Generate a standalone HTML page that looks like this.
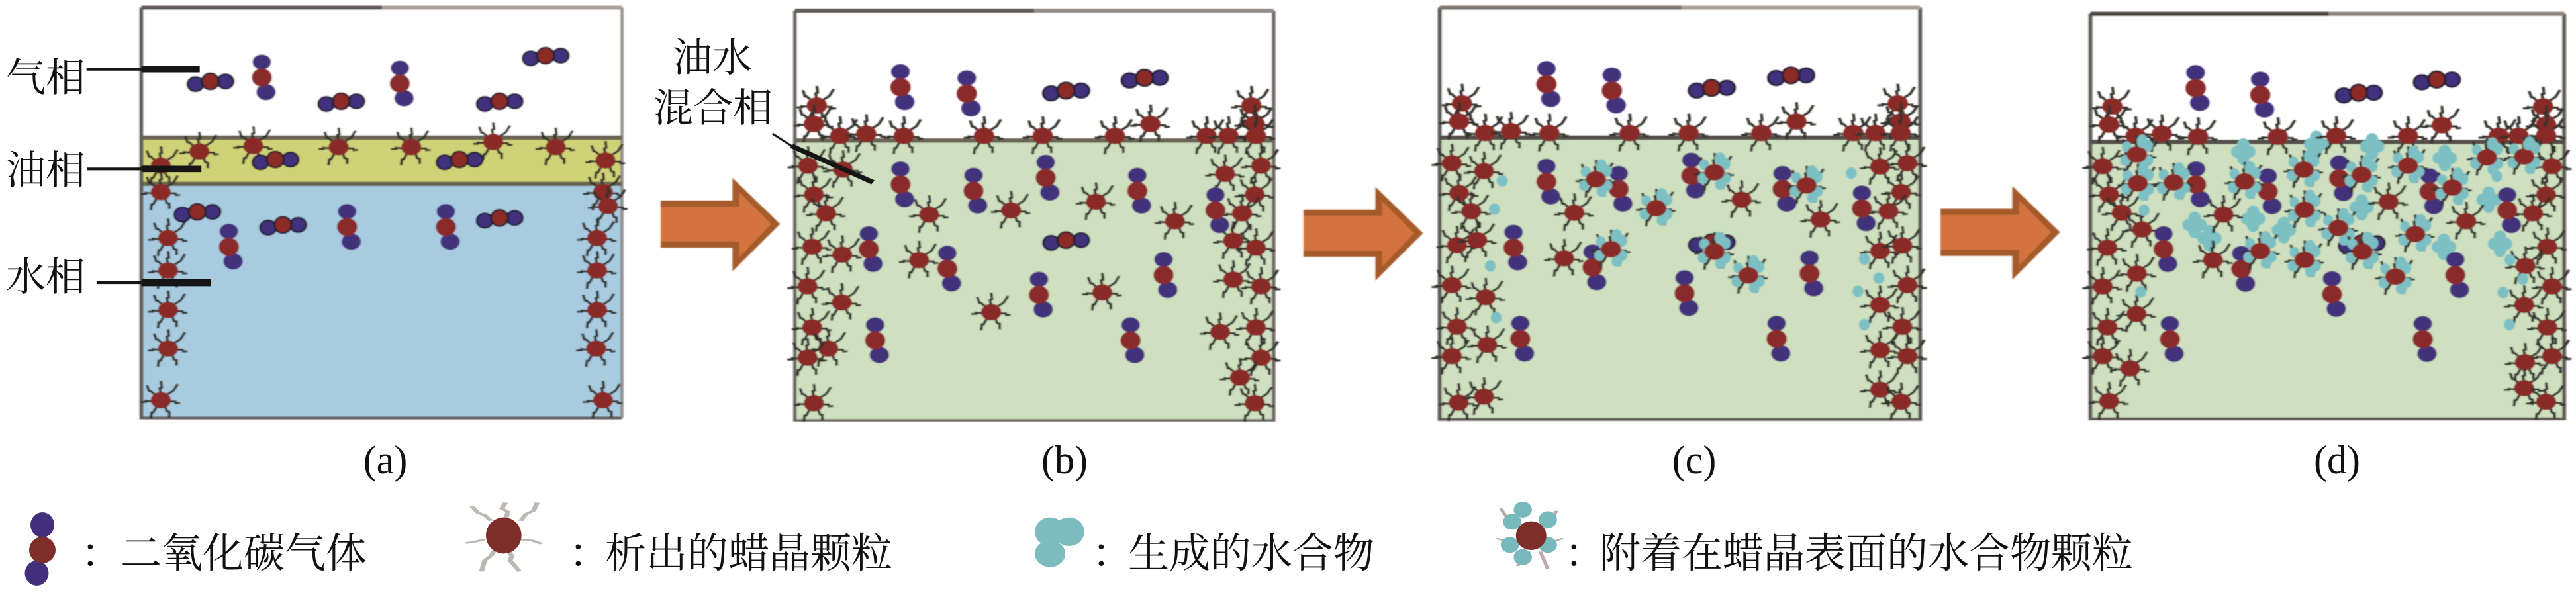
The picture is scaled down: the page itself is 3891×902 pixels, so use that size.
<!DOCTYPE html>
<html><head><meta charset="utf-8"><style>
html,body{margin:0;padding:0;background:#fff}
svg{display:block}
.z{font-family:"Liberation Serif","Noto Serif CJK SC",serif;fill:#111}
</style></head><body>
<svg width="3891" height="902" viewBox="0 0 3891 902" xmlns="http://www.w3.org/2000/svg">
<defs>
<filter id="b" x="-2%" y="-2%" width="104%" height="104%"><feGaussianBlur stdDeviation="1.6"/></filter>
<g id="l" fill="none" stroke="#33302c" stroke-width="6.500">
<path d="M0,-20L-3,-40L2,-42L0,-64M-14,-18L-24,-30L-28,-30L-33,-50M14,-18L26,-28L30,-32L40,-54M-20,4L-36,2L-36,6L-48,6M20,4L34,4L36,10L46,9M-10,20L-18,40L-22,40L-24,60M10,20L14,36L20,38L20,56"/>
</g>
<g id="w"><use href="#l"/><ellipse rx="24" ry="27" fill="#8a2a28"/></g>
<g id="v"><ellipse cx="0" cy="-51" rx="22" ry="25" fill="#43307c"/><ellipse cx="10" cy="48" rx="23" ry="27" fill="#43307c"/><ellipse rx="24" ry="30" fill="#8a2b2a"/></g>
<g id="h" stroke="#221c30" stroke-width="5"><ellipse cx="-35" cy="9" rx="19" ry="24" fill="#40307c"/><ellipse cx="36" cy="0" rx="19" ry="24" fill="#40307c"/><ellipse rx="20" ry="27" fill="#8c2a28"/></g>
<g id="t"><use href="#w"/><g fill="#7cc0c3"><ellipse cx="13" cy="-45" rx="13" ry="21"/><ellipse cx="25" cy="-28" rx="13" ry="20"/><ellipse cx="-24" cy="-25" rx="12" ry="18"/><ellipse cx="26" cy="20" rx="13" ry="18"/><ellipse cx="-28" cy="20" rx="12" ry="18"/><ellipse cx="14" cy="40" rx="13" ry="18"/></g><ellipse rx="24" ry="27" fill="#8a2a28"/></g>
<ellipse id="s" rx="13" ry="19" fill="#7cc0c3"/>
<g id="c" fill="#7cc0c3"><ellipse cx="0" cy="-20" rx="15" ry="22"/><ellipse cx="-15" cy="2" rx="14" ry="20"/><ellipse cx="15" cy="2" rx="14" ry="20"/><ellipse cx="0" cy="22" rx="15" ry="24"/></g>
<g id="ar"><polygon points="0,0 170,0 170,-75 283,77 170,233 170,155 0,155" fill="#a55a2c"/><polygon points="0,20 186,20 186,-28 262,77 186,187 186,135 0,135" fill="#d3733f"/></g>
</defs>

<!-- Panel a -->
<g transform="scale(.6378,.4592)"><g filter="url(#b)">
<rect x="335" y="25" width="1138" height="428" fill="#fff"/>
<rect x="335" y="453" width="1138" height="152" fill="#cfd277"/>
<rect x="335" y="605" width="1138" height="770" fill="#a8cbe0"/>
<path d="M335,25V1375H1473" fill="none" stroke="#5e5a58" stroke-width="9"/>
<path d="M1473,25V1375" fill="none" stroke="#8d8885" stroke-width="7"/>
<path d="M335,25H905" stroke="#5e5a58" stroke-width="13"/><path d="M905,25H1473" stroke="#a89f9a" stroke-width="13"/>
<path d="M335,453H1473" stroke="#6a6555" stroke-width="14"/><path d="M335,605H1473" stroke="#66644d" stroke-width="14"/>
<use href="#w" x="472" y="498"/><use href="#w" x="600" y="480"/><use href="#w" x="802" y="484"/><use href="#w" x="974" y="484"/><use href="#w" x="1168" y="467"/><use href="#w" x="1316" y="484"/><use href="#w" x="381" y="545"/><use href="#w" x="1434" y="528"/><use href="#w" x="381" y="632"/><use href="#w" x="1428" y="632"/><use href="#w" x="1440" y="678"/><use href="#w" x="398" y="783"/><use href="#w" x="1414" y="783"/><use href="#w" x="398" y="890"/><use href="#w" x="1414" y="890"/><use href="#w" x="398" y="1020"/><use href="#w" x="1414" y="1020"/><use href="#w" x="398" y="1147"/><use href="#w" x="1412" y="1147"/><use href="#w" x="381" y="1317"/><use href="#w" x="1428" y="1317"/>
<use href="#v" x="620" y="255"/><use href="#v" x="947" y="275"/><use href="#v" x="542" y="812"/><use href="#v" x="822" y="747"/><use href="#v" x="1056" y="747"/>
<use href="#h" x="498" y="268"/><use href="#h" x="808" y="333"/><use href="#h" x="1183" y="333"/><use href="#h" x="1292" y="183"/><use href="#h" x="652" y="525"/><use href="#h" x="1088" y="525"/><use href="#h" x="467" y="697"/><use href="#h" x="670" y="740"/><use href="#h" x="1183" y="717"/>
</g>
<path d="M205,228H335" stroke="#151515" stroke-width="9"/><path d="M335,228H473" stroke="#151515" stroke-width="21"/>
<path d="M207,556H335" stroke="#151515" stroke-width="9"/><path d="M335,556H477" stroke="#151515" stroke-width="21"/>
<path d="M230,930H335" stroke="#151515" stroke-width="9"/><path d="M335,930H500" stroke="#151515" stroke-width="23"/>
</g>

<!-- Panel b -->
<g transform="translate(950,0) scale(.6378,.4592)"><g filter="url(#b)">
<rect x="393" y="462" width="1134" height="921" fill="#cfe0c0"/>
<path d="M393,35V1383H1527V35" fill="none" stroke="#6a6462" stroke-width="8"/>
<path d="M393,35H960" stroke="#5e5a58" stroke-width="13"/><path d="M960,35H1527" stroke="#928a85" stroke-width="13"/>
<path d="M393,462H1527" stroke="#6a6555" stroke-width="14"/>
<use href="#ar" x="75" y="660"/>
<use href="#w" x="445" y="347"/><use href="#w" x="438" y="408"/><use href="#w" x="500" y="447"/><use href="#w" x="562" y="440"/><use href="#w" x="651" y="447"/><use href="#w" x="841" y="447"/><use href="#w" x="980" y="447"/><use href="#w" x="1151" y="447"/><use href="#w" x="1235" y="408"/><use href="#w" x="1368" y="447"/><use href="#w" x="1420" y="447"/><use href="#w" x="1474" y="347"/><use href="#w" x="1482" y="408"/><use href="#w" x="1485" y="447"/><use href="#w" x="424" y="545"/><use href="#w" x="507" y="558"/><use href="#w" x="438" y="640"/><use href="#w" x="467" y="702"/><use href="#w" x="711" y="706"/><use href="#w" x="905" y="692"/><use href="#w" x="1106" y="664"/><use href="#w" x="1293" y="728"/><use href="#w" x="1412" y="572"/><use href="#w" x="1497" y="545"/><use href="#w" x="1482" y="640"/><use href="#w" x="1452" y="702"/><use href="#w" x="434" y="812"/><use href="#w" x="505" y="838"/><use href="#w" x="687" y="856"/><use href="#w" x="1431" y="792"/><use href="#w" x="1485" y="815"/><use href="#w" x="423" y="942"/><use href="#w" x="504" y="995"/><use href="#w" x="858" y="1027"/><use href="#w" x="1121" y="962"/><use href="#w" x="1431" y="920"/><use href="#w" x="1497" y="942"/><use href="#w" x="434" y="1077"/><use href="#w" x="472" y="1147"/><use href="#w" x="423" y="1177"/><use href="#w" x="1400" y="1092"/><use href="#w" x="1485" y="1077"/><use href="#w" x="1497" y="1177"/><use href="#w" x="1447" y="1242"/><use href="#w" x="1482" y="1327"/><use href="#w" x="438" y="1327"/>
<use href="#v" x="643" y="287"/><use href="#v" x="800" y="308"/><use href="#v" x="643" y="607"/><use href="#v" x="816" y="628"/><use href="#v" x="987" y="585"/><use href="#v" x="1204" y="628"/><use href="#v" x="1389" y="692"/><use href="#v" x="568" y="820"/><use href="#v" x="754" y="884"/><use href="#v" x="1266" y="905"/><use href="#v" x="971" y="970"/><use href="#v" x="583" y="1120"/><use href="#v" x="1188" y="1120"/>
<use href="#h" x="1035" y="298"/><use href="#h" x="1221" y="256"/><use href="#h" x="1035" y="790"/>
</g>
<path d="M340,440L385,480" stroke="#151515" stroke-width="6"/><path d="M385,480L578,600" stroke="#151515" stroke-width="15"/>
</g>

<!-- Panel c -->
<g transform="translate(1950,0) scale(.6378,.4592)"><g filter="url(#b)">
<rect x="352" y="453" width="1138" height="927" fill="#cfe0c0"/>
<path d="M352,25V1380H1490V25" fill="none" stroke="#5e5a56" stroke-width="9"/>
<path d="M352,25H925" stroke="#7b7571" stroke-width="13"/><path d="M925,25H1490" stroke="#a89f9a" stroke-width="13"/>
<path d="M352,453H1490" stroke="#55504a" stroke-width="14"/>
<use href="#ar" x="30" y="690"/>
<use href="#w" x="405" y="340"/><use href="#w" x="398" y="400"/><use href="#w" x="460" y="438"/><use href="#w" x="521" y="432"/><use href="#w" x="612" y="438"/><use href="#w" x="802" y="438"/><use href="#w" x="942" y="438"/><use href="#w" x="1114" y="438"/><use href="#w" x="1197" y="400"/><use href="#w" x="1332" y="438"/><use href="#w" x="1384" y="438"/><use href="#w" x="1437" y="340"/><use href="#w" x="1444" y="400"/><use href="#w" x="1444" y="438"/><use href="#w" x="381" y="537"/><use href="#w" x="457" y="563"/><use href="#w" x="398" y="635"/><use href="#w" x="427" y="695"/><use href="#w" x="671" y="700"/><use href="#w" x="1067" y="657"/><use href="#w" x="1254" y="722"/><use href="#w" x="1395" y="548"/><use href="#w" x="1460" y="537"/><use href="#w" x="1445" y="632"/><use href="#w" x="1415" y="695"/><use href="#w" x="393" y="807"/><use href="#w" x="441" y="790"/><use href="#w" x="647" y="850"/><use href="#w" x="1395" y="826"/><use href="#w" x="1448" y="808"/><use href="#w" x="381" y="938"/><use href="#w" x="461" y="978"/><use href="#w" x="1460" y="938"/><use href="#w" x="1395" y="1003"/><use href="#w" x="393" y="1075"/><use href="#w" x="465" y="1135"/><use href="#w" x="381" y="1172"/><use href="#w" x="1448" y="1075"/><use href="#w" x="1395" y="1152"/><use href="#w" x="1460" y="1172"/><use href="#w" x="1395" y="1282"/><use href="#w" x="1445" y="1322"/><use href="#w" x="397" y="1325"/><use href="#w" x="457" y="1305"/>
<use href="#v" x="605" y="277"/><use href="#v" x="760" y="298"/><use href="#v" x="605" y="598"/><use href="#v" x="776" y="622"/><use href="#v" x="948" y="578"/><use href="#v" x="1164" y="622"/><use href="#v" x="1352" y="686"/><use href="#v" x="527" y="815"/><use href="#v" x="714" y="880"/><use href="#v" x="1228" y="900"/><use href="#v" x="932" y="965"/><use href="#v" x="543" y="1115"/><use href="#v" x="1150" y="1115"/>
<use href="#h" x="996" y="289"/><use href="#h" x="1184" y="248"/><use href="#h" x="996" y="797"/>
<use href="#t" x="722" y="590"/><use href="#t" x="865" y="685"/><use href="#t" x="1003" y="567"/><use href="#t" x="1221" y="610"/><use href="#t" x="758" y="820"/><use href="#t" x="1003" y="828"/><use href="#t" x="1083" y="906"/>
<use href="#s" x="500" y="595"/><use href="#s" x="482" y="688"/><use href="#s" x="472" y="875"/><use href="#s" x="486" y="1045"/><use href="#s" x="1327" y="570"/><use href="#s" x="1358" y="852"/><use href="#s" x="1392" y="915"/><use href="#s" x="1343" y="958"/><use href="#s" x="1358" y="1068"/>
</g></g>

<!-- Panel d -->
<g transform="translate(2891,0) scale(.6378,.4592)"><g filter="url(#b)">
<rect x="418" y="467" width="1122" height="911" fill="#cfe0c0"/>
<path d="M418,45V1378H1540V45" fill="none" stroke="#5e5a56" stroke-width="9"/>
<path d="M418,45H982" stroke="#4a4540" stroke-width="13"/><path d="M982,45H1540" stroke="#8d847d" stroke-width="13"/>
<path d="M418,467H1540" stroke="#55504a" stroke-width="14"/>
<use href="#ar" x="63" y="687"/>
<use href="#c" x="780" y="497"/><use href="#c" x="953" y="472"/><use href="#c" x="1085" y="480"/><use href="#c" x="1257" y="518"/><use href="#c" x="1361" y="655"/><use href="#c" x="665" y="738"/><use href="#c" x="700" y="782"/><use href="#c" x="803" y="718"/><use href="#c" x="876" y="755"/><use href="#c" x="1060" y="680"/><use href="#c" x="1255" y="810"/><use href="#c" x="1388" y="800"/>
<use href="#w" x="470" y="350"/><use href="#w" x="462" y="410"/><use href="#w" x="525" y="447"/><use href="#w" x="587" y="440"/><use href="#w" x="673" y="450"/><use href="#w" x="862" y="450"/><use href="#w" x="1000" y="447"/><use href="#w" x="1170" y="447"/><use href="#w" x="1250" y="412"/><use href="#w" x="1385" y="447"/><use href="#w" x="1432" y="447"/><use href="#w" x="1490" y="350"/><use href="#w" x="1497" y="410"/><use href="#w" x="1497" y="445"/><use href="#w" x="447" y="547"/><use href="#w" x="462" y="640"/><use href="#w" x="492" y="700"/><use href="#w" x="733" y="706"/><use href="#w" x="1124" y="664"/><use href="#w" x="1308" y="728"/><use href="#w" x="1511" y="547"/><use href="#w" x="1497" y="640"/><use href="#w" x="1466" y="702"/><use href="#w" x="458" y="815"/><use href="#w" x="540" y="755"/><use href="#w" x="708" y="856"/><use href="#w" x="1500" y="812"/><use href="#w" x="447" y="942"/><use href="#w" x="528" y="900"/><use href="#w" x="1511" y="942"/><use href="#w" x="1448" y="875"/><use href="#w" x="1445" y="1003"/><use href="#w" x="458" y="1077"/><use href="#w" x="527" y="1033"/><use href="#w" x="1500" y="1077"/><use href="#w" x="447" y="1172"/><use href="#w" x="512" y="1212"/><use href="#w" x="1447" y="1192"/><use href="#w" x="1511" y="1172"/><use href="#w" x="1445" y="1277"/><use href="#w" x="1497" y="1322"/><use href="#w" x="462" y="1320"/>
<use href="#v" x="667" y="290"/><use href="#v" x="820" y="312"/><use href="#v" x="668" y="607"/><use href="#v" x="838" y="630"/><use href="#v" x="1007" y="587"/><use href="#v" x="1221" y="630"/><use href="#v" x="1405" y="692"/><use href="#v" x="591" y="820"/><use href="#v" x="775" y="885"/><use href="#v" x="1282" y="905"/><use href="#v" x="990" y="968"/><use href="#v" x="606" y="1116"/><use href="#v" x="1205" y="1116"/>
<use href="#h" x="1053" y="305"/><use href="#h" x="1238" y="262"/><use href="#h" x="1060" y="800"/>
<use href="#t" x="528" y="508"/><use href="#t" x="530" y="603"/><use href="#t" x="615" y="600"/><use href="#t" x="783" y="597"/><use href="#t" x="923" y="558"/><use href="#t" x="1060" y="575"/><use href="#t" x="1170" y="545"/><use href="#t" x="1275" y="617"/><use href="#t" x="1357" y="518"/><use href="#t" x="1445" y="515"/><use href="#t" x="925" y="690"/><use href="#t" x="1005" y="750"/><use href="#t" x="1187" y="770"/><use href="#t" x="820" y="826"/><use href="#t" x="925" y="855"/><use href="#t" x="1062" y="828"/><use href="#t" x="1140" y="910"/>
<use href="#s" x="541" y="468"/><use href="#s" x="545" y="692"/><use href="#s" x="537" y="960"/><use href="#s" x="1411" y="855"/><use href="#s" x="1442" y="918"/><use href="#s" x="1395" y="962"/><use href="#s" x="1410" y="1068"/><use href="#s" x="1455" y="475"/><use href="#s" x="1380" y="580"/>
</g></g>

<!-- Legend symbols -->
<ellipse cx="64" cy="793" rx="18" ry="19" fill="#43307c"/>
<ellipse cx="55.500" cy="866" rx="18" ry="19" fill="#43307c"/>
<ellipse cx="64" cy="831" rx="20" ry="20" fill="#7f2d28"/>
<g transform="translate(0,700) scale(.957,.3333)">
<path d="M745,195L755,225L765,235L775,260M798,178L792,205L802,220L798,250M848,178L842,215L830,230L822,260M735,362L750,355L765,345M855,365L840,350L822,345M760,490L765,440L775,420L780,395M820,490L805,440L808,420L802,395" fill="none" stroke="#bdb8b4" stroke-width="8"/>
<ellipse cx="795" cy="327" rx="28" ry="82" fill="#7f2d28"/>
</g>
<g transform="translate(1500,700) scale(1.148,.3333)">
<g fill="#7cbcbe"><ellipse cx="75" cy="310" rx="20" ry="65"/><ellipse cx="100" cy="310" rx="20" ry="65"/><ellipse cx="75" cy="410" rx="20" ry="60"/></g>
<path d="M668,205L685,290M742,215L725,290M662,340L690,370M750,340L725,370M690,465L705,400M730,480L720,400" fill="none" stroke="#bfaaa6" stroke-width="5"/>
<g fill="#78b9bd"><ellipse cx="697" cy="210" rx="12" ry="36"/><ellipse cx="683" cy="265" rx="12" ry="36"/><ellipse cx="730" cy="255" rx="12" ry="38"/><ellipse cx="680" cy="370" rx="12" ry="36"/><ellipse cx="730" cy="370" rx="12" ry="36"/><ellipse cx="697" cy="425" rx="12" ry="36"/></g>
<ellipse cx="708" cy="328" rx="20" ry="65" fill="#7f2d28"/>
</g>

<!-- Labels -->
<g class="z" font-size="60">
<text x="9" y="138">气相</text>
<text x="9" y="278">油相</text>
<text x="9" y="439">水相</text>
<text x="1016" y="108">油水</text>
<text x="987" y="184">混合相</text>
</g>
<g class="z" font-size="60" text-anchor="middle">
<text x="582" y="715">(a)</text>
<text x="1608" y="715">(b)</text>
<text x="2559" y="715">(c)</text>
<text x="3530" y="715">(d)</text>
</g>
<g class="z" font-size="62">
<text x="182" y="857">二氧化碳气体</text>
<text x="914" y="857">析出的蜡晶颗粒</text>
<text x="1704" y="857">生成的水合物</text>
<text x="2416" y="857">附着在蜡晶表面的水合物颗粒</text>
<text x="122" y="857">：</text>
<text x="859" y="857">：</text>
<text x="1649" y="857">：</text>
<text x="2363" y="857">：</text>
</g>
</svg>
</body></html>
